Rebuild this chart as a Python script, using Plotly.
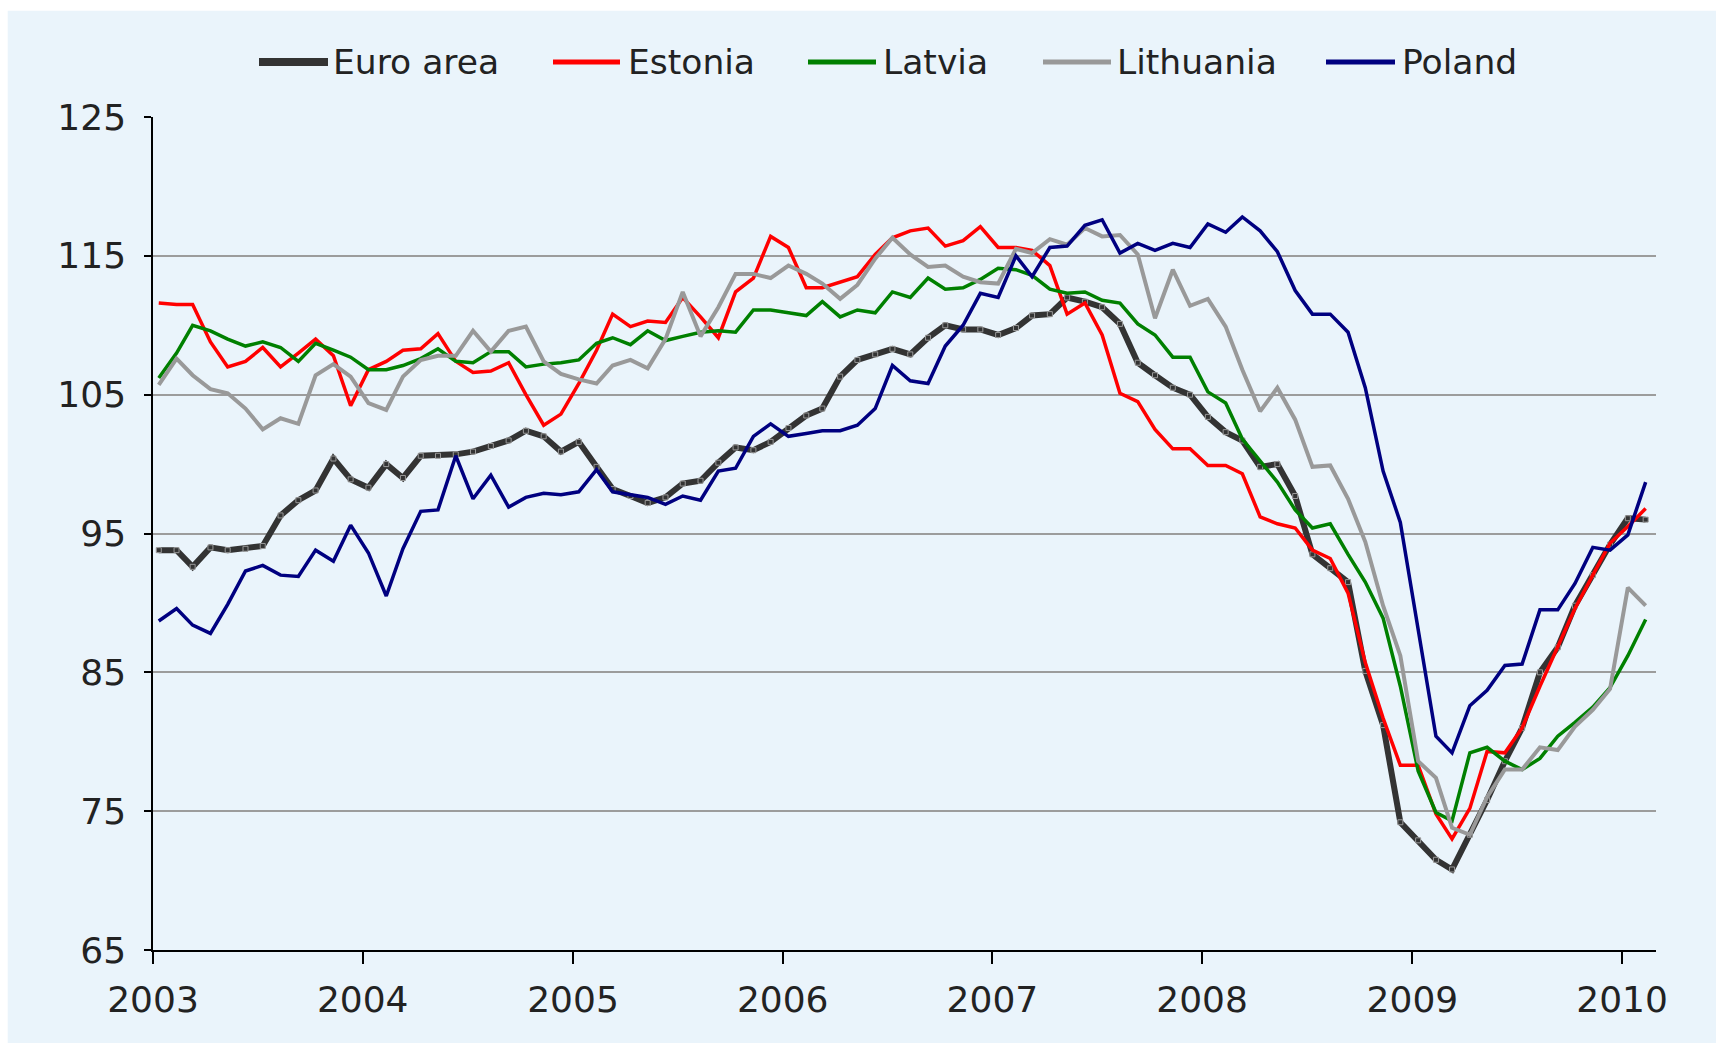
import pandas as pd
import plotly.graph_objects as go

# monthly observations, Jan 2003 .. Feb 2010
months = pd.date_range("2003-01-01", "2010-02-01", freq="MS") + pd.Timedelta(days=10)

euro_area = [93.8, 93.8, 92.6, 94.0, 93.8, 93.9, 94.1, 96.3, 97.4, 98.1, 100.4, 98.9, 98.3, 100.0, 99.0, 100.6,
             100.6, 100.7, 100.9, 101.3, 101.7, 102.4, 102.0, 100.9, 101.6, 99.8,
             98.2, 97.7, 97.2, 97.6, 98.6, 98.8, 100.1, 101.2, 101.0, 101.6, 102.6, 103.5, 104.0, 106.3, 107.5,
             107.9, 108.3, 107.9, 109.1, 110.0, 109.7, 109.7, 109.3, 109.8, 110.7,
             110.8, 112.0, 111.7, 111.3, 110.1, 107.3, 106.4, 105.5, 105.0, 103.4, 102.3, 101.7, 99.8, 100.0,
             97.7, 93.5, 92.5, 91.5, 85.1, 81.2, 74.2, 72.9, 71.5, 70.8, 73.3, 75.8, 78.6, 81.0, 85.0, 86.8,
             89.8, 92.0, 94.2, 96.1, 96.0]
estonia = [111.6, 111.5, 111.5, 108.8, 107.0, 107.4, 108.4, 107.0, 108.0, 109.0, 107.8, 104.2, 106.8, 107.4,
           108.2, 108.3, 109.4, 107.4, 106.6, 106.7, 107.3, 105.0, 102.8, 103.6, 105.8, 108.2,
           110.8, 109.9, 110.3, 110.2, 112.0, 110.6, 109.1, 112.4, 113.4, 116.4, 115.6, 112.7, 112.7, 113.1,
           113.5, 115.1, 116.3, 116.8, 117.0, 115.7, 116.1, 117.1, 115.6, 115.6, 115.4,
           114.3, 110.8, 111.6, 109.3, 105.1, 104.5, 102.5, 101.1, 101.1, 99.9, 99.9, 99.3, 96.2, 95.7, 95.4,
           93.8, 93.2, 90.7, 85.7, 81.7, 78.3, 78.3, 74.8, 73.0, 75.2, 79.3, 79.2, 81.0, 84.0, 86.8, 89.6,
           92.0, 94.3, 95.5, 96.8]
latvia = [106.2, 108.0, 110.0, 109.6, 109.0, 108.5, 108.8, 108.4, 107.4, 108.7, 108.2, 107.7, 106.8, 106.8,
          107.1, 107.6, 108.3, 107.4, 107.3, 108.1, 108.1, 107.0, 107.2, 107.3, 107.5, 108.7,
          109.1, 108.6, 109.6, 108.9, 109.2, 109.5, 109.6, 109.5, 111.1, 111.1, 110.9, 110.7, 111.7, 110.6,
          111.1, 110.9, 112.4, 112.0, 113.4, 112.6, 112.7, 113.3, 114.1, 114.0, 113.6,
          112.6, 112.3, 112.4, 111.8, 111.6, 110.1, 109.3, 107.7, 107.7, 105.2, 104.4, 101.8, 100.2, 98.7,
          96.7, 95.4, 95.7, 93.5, 91.5, 88.9, 84.0, 77.9, 74.9, 74.3, 79.2, 79.6, 78.6, 78.0, 78.8, 80.4,
          81.4, 82.5, 83.9, 86.2, 88.8]
lithuania = [105.7, 107.6, 106.4, 105.4, 105.1, 104.0, 102.5, 103.3, 102.9, 106.4, 107.2, 106.3, 104.4, 103.9,
             106.3, 107.5, 107.8, 107.8, 109.6, 108.1, 109.6, 109.9, 107.4, 106.5, 106.1, 105.8,
             107.1, 107.5, 106.9, 109.0, 112.4, 109.2, 111.3, 113.7, 113.7, 113.4, 114.3, 113.7, 113.0, 111.9,
             112.9, 114.8, 116.3, 115.1, 114.2, 114.3, 113.5, 113.1, 113.0, 115.5, 115.2,
             116.2, 115.8, 117.0, 116.4, 116.5, 115.1, 110.5, 114.0, 111.4, 111.9, 109.9, 106.8, 103.8, 105.5,
             103.2, 99.8, 99.9, 97.5, 94.4, 89.8, 86.2, 78.6, 77.4, 73.8, 73.3, 76.0, 78.0, 78.0, 79.6, 79.4,
             81.1, 82.3, 83.8, 91.1, 89.8]
poland = [88.7, 89.6, 88.4, 87.8, 89.9, 92.3, 92.7, 92.0, 91.9, 93.8, 93.0, 95.6, 93.6, 90.5, 93.9, 96.6,
          96.7, 100.6, 97.5, 99.2, 96.9, 97.6, 97.9, 97.8, 98.0, 99.6,
          98.0, 97.8, 97.6, 97.1, 97.7, 97.4, 99.5, 99.7, 102.0, 102.9, 102.0, 102.2, 102.4, 102.4, 102.8,
          104.0, 107.1, 106.0, 105.8, 108.5, 110.0, 112.3, 112.0, 115.0, 113.5,
          115.6, 115.7, 117.2, 117.6, 115.2, 115.9, 115.4, 115.9, 115.6, 117.3, 116.7, 117.8, 116.8, 115.3,
          112.5, 110.8, 110.8, 109.5, 105.5, 99.5, 95.8, 88.1, 80.4, 79.2, 82.6, 83.7, 85.5, 85.6, 89.5,
          89.5, 91.4, 94.0, 93.8, 94.9, 98.7]

series_names = ["Euro area", "Estonia", "Latvia", "Lithuania", "Poland"]
series_values = [euro_area, estonia, latvia, lithuania, poland]
series_colors = ["#333333", "#FF0000", "#008000", "#999999", "#000080"]
series_widths = [6, 3.5, 3.5, 4, 3.5]
year_ticks = ["2003", "2004", "2005", "2006", "2007", "2008", "2009", "2010"]
y_ticks = [65, 75, 85, 95, 105, 115, 125]

FONT = "DejaVu Sans"
fig = go.Figure()
for name, vals, col, w in zip(series_names, series_values, series_colors, series_widths):
    if name == "Euro area":
        fig.add_trace(go.Scatter(x=months, y=vals, name=name, mode="lines+markers",
                                 line=dict(color=col, width=w),
                                 marker=dict(symbol="square", size=5, color=col,
                                             line=dict(color="#9a9a9a", width=1))))
    else:
        fig.add_trace(go.Scatter(x=months, y=vals, name=name, mode="lines",
                                 line=dict(color=col, width=w)))

L, R, T, B = 153, 60, 117, 94
W, H = 1716, 1044
pw, ph = W - L - R, H - T - B


def px2x(px):
    return (px - L) / pw


def py2y(py):
    return (H - B - py) / ph


shapes = [dict(type="rect", xref="paper", yref="paper", layer="below",
               x0=px2x(7.7), x1=px2x(W + 2), y0=py2y(1043), y1=py2y(10.7),
               fillcolor="#EAF4FB", line=dict(width=0))]

# manual legend
leg_line = [(259, 328), (553, 620), (808, 876), (1043, 1111), (1326, 1395)]
leg_text = [331, 626, 881, 1115, 1400]
leg_y = 62
annotations = []
for name, col, w, (a, b), tx in zip(series_names, series_colors, series_widths, leg_line, leg_text):
    shapes.append(dict(type="line", xref="paper", yref="paper", x0=px2x(a), x1=px2x(b),
                       y0=py2y(leg_y), y1=py2y(leg_y),
                       line=dict(color=col, width=8 if name == "Euro area" else 5)))
    annotations.append(dict(xref="paper", yref="paper", x=px2x(tx), y=py2y(leg_y), text=name,
                            showarrow=False, xanchor="left", yanchor="middle",
                            font=dict(family=FONT, size=34.5, color="#222222")))

fig.update_layout(
    width=W, height=H, margin=dict(l=L, r=R, t=T, b=B),
    paper_bgcolor="white", plot_bgcolor="rgba(0,0,0,0)",
    showlegend=False, shapes=shapes, annotations=annotations,
    font=dict(family=FONT, color="#222222"),
)
fig.update_xaxes(
    type="date", range=["2003-01-01", "2010-03-01"],
    tickvals=[f"{y}-01-01" for y in year_ticks], ticktext=year_ticks,
    showgrid=False, showline=True, linecolor="black", linewidth=2,
    ticks="outside", ticklen=12, tickwidth=1.5, tickcolor="black",
    tickfont=dict(family=FONT, size=36, color="#222222"), ticklabelstandoff=5,
    zeroline=False,
)
fig.update_yaxes(
    range=[65, 125], tickvals=y_ticks, ticktext=[str(v) for v in y_ticks],
    showgrid=True, gridcolor="#9c9c9c", gridwidth=2,
    showline=True, linecolor="black", linewidth=1.5,
    ticks="outside", ticklen=7, tickwidth=1.5, tickcolor="black",
    tickfont=dict(family=FONT, size=36, color="#222222"), ticklabelstandoff=11,
    zeroline=False,
)

fig.write_html("out.html", config={"displayModeBar": False},
               post_script="document.body.style.margin='0';document.body.style.overflow='hidden';")
